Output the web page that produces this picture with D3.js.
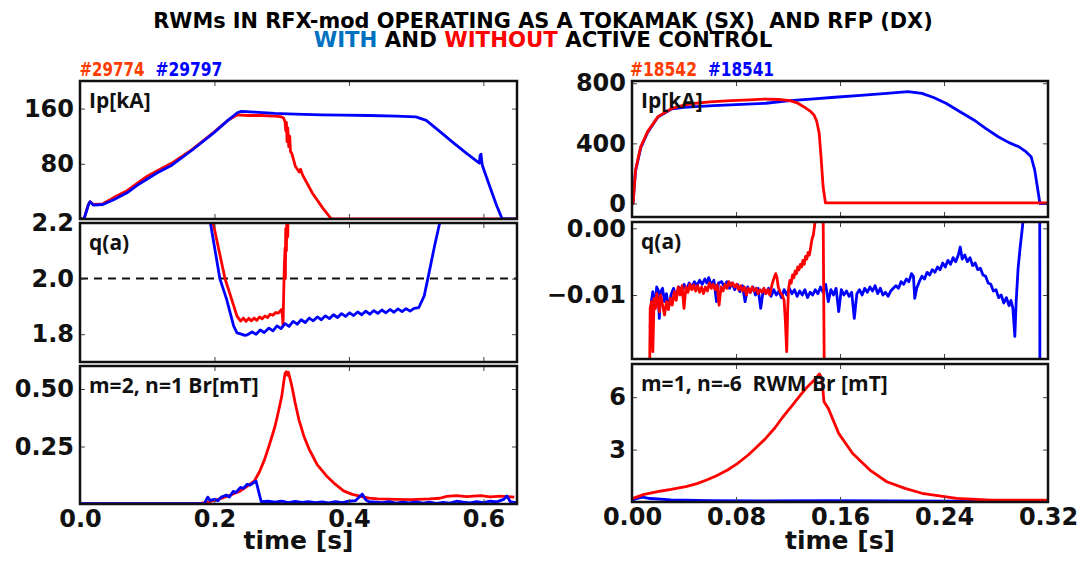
<!DOCTYPE html>
<html>
<head>
<meta charset="utf-8">
<script src="https://cdn.jsdelivr.net/npm/d3@7"></script>
<style>
  body { margin: 0; background: #fff; }
  text { white-space: pre; }
</style>
</head>
<body>
<div id="chart"></div>
<script>
// ---- data (time [s], value) ----
const tokIpRed = [[0,0],[0.006,0],[0.012,20],[0.015,25],[0.02,21],[0.034,22],[0.05,31],[0.07,41],[0.0855,52],[0.1,62],[0.115,70],[0.1366,81],[0.167,101],[0.198,125],[0.22,143],[0.234,151],[0.25,150],[0.27,150],[0.29,149],[0.3,148],[0.303,146],[0.305,141],[0.306,128],[0.307,140],[0.308,112],[0.309,132],[0.3105,105],[0.312,120],[0.313,98],[0.315,95],[0.3205,76],[0.326,68],[0.328,72],[0.331,64],[0.346,37],[0.3617,15],[0.374,0],[0.65,0]];
const tokIpBlue = [[0,0],[0.006,0],[0.013,22],[0.015,25],[0.02,20],[0.034,21],[0.05,28],[0.07,38],[0.0855,49],[0.1,58],[0.115,67],[0.1366,78],[0.167,100],[0.198,124],[0.22,143],[0.234,154],[0.24,156],[0.26,155],[0.29,153],[0.32,152],[0.36,151],[0.392,150.5],[0.43,150],[0.47,149],[0.4995,148],[0.515,143],[0.535,127],[0.556,110],[0.575,95],[0.594,81],[0.595,92],[0.5965,94],[0.598,80],[0.599,76],[0.607,54],[0.6195,20],[0.628,0],[0.65,0]];

const tokQRed = [[0.19,2.4],[0.198,2.2],[0.2157,2.0],[0.225,1.93],[0.2335,1.865],[0.239,1.847],[0.243,1.858],[0.247,1.846],[0.251,1.857],[0.255,1.848],[0.259,1.858],[0.263,1.85],[0.267,1.862],[0.271,1.855],[0.275,1.866],[0.279,1.86],[0.283,1.872],[0.287,1.868],[0.291,1.878],[0.295,1.876],[0.2997,1.889],[0.301,1.87],[0.302,1.83],[0.303,1.95],[0.304,2.05],[0.305,2.11],[0.3055,2.0],[0.306,2.18],[0.307,2.1],[0.3077,2.25],[0.309,2.15],[0.31,2.3],[0.32,2.4]];
const tokQBlue = [[0.185,2.4],[0.194,2.2],[0.208,2.0],[0.218,1.926],[0.2286,1.829],[0.2335,1.805],[0.24,1.8],[0.245,1.796],[0.249,1.798],[0.256,1.808],[0.262,1.8],[0.268,1.815],[0.274,1.806],[0.281,1.822],[0.287,1.812],[0.293,1.83],[0.299,1.82],[0.305,1.838],[0.311,1.828],[0.317,1.846],[0.323,1.836],[0.329,1.852],[0.335,1.842],[0.341,1.858],[0.347,1.848],[0.353,1.862],[0.359,1.852],[0.365,1.866],[0.371,1.856],[0.377,1.87],[0.383,1.86],[0.389,1.874],[0.395,1.864],[0.401,1.877],[0.407,1.867],[0.413,1.88],[0.419,1.87],[0.425,1.883],[0.431,1.872],[0.437,1.885],[0.443,1.875],[0.449,1.887],[0.455,1.877],[0.461,1.889],[0.467,1.879],[0.473,1.891],[0.479,1.881],[0.485,1.892],[0.491,1.883],[0.497,1.893],[0.504,1.896],[0.512,1.938],[0.5174,2.0],[0.5276,2.12],[0.535,2.2],[0.545,2.4]];
const qLimit = 2.0;

const tokBrRed = [[0,0.002],[0.177,0.002],[0.19,0.008],[0.208,0.022],[0.225,0.04],[0.2387,0.057],[0.25,0.08],[0.2593,0.1],[0.267,0.14],[0.2746,0.194],[0.282,0.26],[0.29,0.337],[0.295,0.4],[0.3,0.467],[0.303,0.53],[0.305,0.568],[0.307,0.575],[0.3085,0.56],[0.31,0.573],[0.3153,0.51],[0.32,0.44],[0.3257,0.366],[0.333,0.295],[0.341,0.237],[0.353,0.17],[0.3667,0.122],[0.38,0.085],[0.392,0.057],[0.405,0.042],[0.4177,0.033],[0.43,0.026],[0.443,0.022],[0.47,0.02],[0.494,0.019],[0.52,0.022],[0.535,0.025],[0.5454,0.033],[0.56,0.036],[0.575,0.032],[0.596,0.036],[0.61,0.031],[0.625,0.034],[0.646,0.03]];
const tokBrBlue = [[0,0.002],[0.185,0.002],[0.19,0.03],[0.193,0.016],[0.2,0.02],[0.205,0.014],[0.21,0.03],[0.218,0.039],[0.222,0.03],[0.228,0.055],[0.232,0.05],[0.2387,0.072],[0.243,0.068],[0.2488,0.086],[0.253,0.082],[0.2618,0.1],[0.2655,0.057],[0.2695,0.01],[0.28,0.012],[0.29,0.008],[0.3,0.012],[0.31,0.006],[0.32,0.011],[0.33,0.007],[0.34,0.01],[0.35,0.006],[0.36,0.009],[0.37,0.005],[0.38,0.01],[0.39,0.006],[0.4,0.012],[0.41,0.015],[0.42,0.043],[0.425,0.018],[0.43,0.01],[0.44,0.008],[0.45,0.006],[0.46,0.01],[0.47,0.004],[0.48,0.008],[0.49,0.005],[0.5,0.009],[0.51,0.004],[0.52,0.008],[0.53,0.003],[0.54,0.007],[0.55,0.004],[0.56,0.012],[0.57,0.008],[0.58,0.005],[0.59,0.01],[0.6,0.006],[0.61,0.012],[0.62,0.009],[0.63,0.02],[0.635,0.035],[0.64,0.01],[0.65,0.005]];

const rfpIpRed = [[0,0],[0.0008,0],[0.0027,222],[0.0067,377],[0.012,478],[0.02,578],[0.0307,633],[0.04,655],[0.049,667],[0.06,676],[0.076,684],[0.09,690],[0.103,695],[0.113,692],[0.1215,684],[0.127,670],[0.132,644],[0.137,615],[0.14,589],[0.142,550],[0.144,467],[0.1455,300],[0.147,111],[0.1488,4],[0.2,4],[0.32,4]];
const rfpIpBlue = [[0,0],[0.0008,0],[0.0027,215],[0.0067,370],[0.012,472],[0.02,575],[0.0307,630],[0.04,640],[0.049,645],[0.0628,651],[0.08,658],[0.103,667],[0.1215,684],[0.14,696],[0.156,707],[0.176,720],[0.196,733],[0.2123,744],[0.223,733],[0.232,705],[0.2415,667],[0.252,612],[0.263,556],[0.272,500],[0.2817,444],[0.29,405],[0.2977,377],[0.303,345],[0.307,311],[0.3098,222],[0.312,100],[0.3138,0],[0.32,0]];

const rfpQBlue = [[0.014,-0.015],[0.015,-0.0108],[0.016,-0.0095],[0.0175,-0.012],[0.019,-0.0088],[0.02,-0.0092],[0.021,-0.0135],[0.022,-0.0095],[0.0235,-0.009],[0.025,-0.011],[0.0265,-0.0098],[0.028,-0.012],[0.03,-0.01],[0.032,-0.009],[0.034,-0.0105],[0.036,-0.0088],[0.038,-0.0095],[0.04,-0.0084],[0.042,-0.0092],[0.044,-0.0082],[0.046,-0.0088],[0.048,-0.008],[0.05,-0.0086],[0.052,-0.0078],[0.054,-0.0084],[0.056,-0.0076],[0.0575,-0.0082],[0.059,-0.0074],[0.061,-0.0085],[0.063,-0.0078],[0.065,-0.011],[0.0665,-0.0082],[0.069,-0.008],[0.071,-0.0088],[0.073,-0.008],[0.075,-0.009],[0.077,-0.0082],[0.079,-0.0092],[0.081,-0.0084],[0.083,-0.0095],[0.085,-0.0086],[0.087,-0.011],[0.089,-0.0088],[0.091,-0.0096],[0.093,-0.0088],[0.095,-0.01],[0.097,-0.009],[0.099,-0.012],[0.101,-0.0092],[0.103,-0.0098],[0.105,-0.009],[0.107,-0.0102],[0.109,-0.0092],[0.111,-0.01],[0.113,-0.0094],[0.115,-0.0104],[0.117,-0.0092],[0.119,-0.01],[0.121,-0.009],[0.123,-0.0098],[0.125,-0.0092],[0.127,-0.0102],[0.129,-0.0094],[0.131,-0.01],[0.133,-0.0092],[0.135,-0.0104],[0.137,-0.0096],[0.139,-0.01],[0.141,-0.0092],[0.143,-0.0098],[0.145,-0.0088],[0.147,-0.0096],[0.149,-0.0084],[0.151,-0.011],[0.153,-0.0092],[0.155,-0.01],[0.157,-0.009],[0.159,-0.0125],[0.161,-0.0092],[0.163,-0.01],[0.165,-0.0094],[0.167,-0.0102],[0.169,-0.0096],[0.171,-0.0135],[0.173,-0.0098],[0.175,-0.0092],[0.177,-0.01],[0.179,-0.009],[0.181,-0.0096],[0.183,-0.0088],[0.185,-0.0094],[0.187,-0.0086],[0.189,-0.0098],[0.191,-0.009],[0.193,-0.01],[0.195,-0.0096],[0.197,-0.0102],[0.199,-0.0094],[0.201,-0.009],[0.203,-0.0086],[0.205,-0.009],[0.207,-0.008],[0.209,-0.0084],[0.211,-0.0076],[0.213,-0.008],[0.215,-0.0068],[0.2165,-0.0072],[0.2175,-0.0105],[0.219,-0.009],[0.221,-0.008],[0.223,-0.0072],[0.225,-0.0076],[0.227,-0.0066],[0.229,-0.007],[0.231,-0.0062],[0.233,-0.0066],[0.235,-0.0058],[0.237,-0.0062],[0.239,-0.0052],[0.241,-0.0058],[0.243,-0.0048],[0.245,-0.0054],[0.247,-0.0044],[0.249,-0.005],[0.251,-0.004],[0.2525,-0.0028],[0.254,-0.0046],[0.256,-0.004],[0.258,-0.005],[0.26,-0.0044],[0.262,-0.0056],[0.264,-0.0052],[0.266,-0.0062],[0.268,-0.006],[0.27,-0.007],[0.272,-0.0072],[0.274,-0.0082],[0.276,-0.0084],[0.278,-0.0094],[0.28,-0.0092],[0.282,-0.0104],[0.284,-0.01],[0.286,-0.0112],[0.288,-0.0104],[0.29,-0.0116],[0.2915,-0.0108],[0.293,-0.012],[0.2945,-0.0162],[0.2955,-0.011],[0.297,-0.006],[0.2985,-0.003],[0.3,-0.0004],[0.301,0.0015],[0.305,0.01],[0.3136,0.01],[0.3138,-0.03]];
const rfpQRed = [[0.0135,-0.023],[0.014,-0.012],[0.015,-0.011],[0.016,-0.0185],[0.017,-0.0105],[0.018,-0.012],[0.019,-0.0098],[0.02,-0.011],[0.021,-0.0125],[0.022,-0.01],[0.0235,-0.0115],[0.025,-0.013],[0.0265,-0.011],[0.028,-0.0122],[0.0295,-0.0105],[0.031,-0.0115],[0.0325,-0.0095],[0.034,-0.0108],[0.0355,-0.0088],[0.037,-0.01],[0.0385,-0.0086],[0.04,-0.012],[0.0415,-0.0088],[0.043,-0.0096],[0.0445,-0.0084],[0.046,-0.0092],[0.0475,-0.0085],[0.049,-0.0094],[0.0505,-0.0086],[0.052,-0.0096],[0.0535,-0.0088],[0.055,-0.0098],[0.0565,-0.0088],[0.058,-0.0094],[0.0595,-0.0082],[0.061,-0.009],[0.0625,-0.0084],[0.064,-0.0092],[0.0655,-0.0085],[0.067,-0.0115],[0.0685,-0.0088],[0.07,-0.0094],[0.0715,-0.0084],[0.073,-0.009],[0.0745,-0.008],[0.076,-0.0086],[0.0775,-0.0082],[0.079,-0.0088],[0.0805,-0.0084],[0.082,-0.0092],[0.0835,-0.0086],[0.085,-0.0094],[0.0865,-0.0088],[0.088,-0.01],[0.0895,-0.009],[0.091,-0.0096],[0.0925,-0.0088],[0.094,-0.0094],[0.0955,-0.009],[0.097,-0.0098],[0.0985,-0.0092],[0.1,-0.0096],[0.1015,-0.009],[0.103,-0.0098],[0.1045,-0.0092],[0.106,-0.01],[0.1075,-0.0086],[0.109,-0.0076],[0.1105,-0.0068],[0.1115,-0.0074],[0.1125,-0.0088],[0.114,-0.0096],[0.1155,-0.01],[0.117,-0.0108],[0.118,-0.014],[0.119,-0.0185],[0.1198,-0.012],[0.1205,-0.009],[0.1215,-0.0078],[0.1225,-0.0082],[0.1235,-0.007],[0.1245,-0.0074],[0.1255,-0.0064],[0.1265,-0.0068],[0.1275,-0.0058],[0.1285,-0.0062],[0.1295,-0.0054],[0.1305,-0.0058],[0.1315,-0.0048],[0.1325,-0.0054],[0.1335,-0.0042],[0.1345,-0.0046],[0.1355,-0.0036],[0.1365,-0.004],[0.1375,-0.0028],[0.1385,-0.0016],[0.1395,-0.001],[0.1405,0.0005],[0.1415,0.002],[0.147,0.003],[0.1482,-0.03]];

const rfpBrRed = [[0,0.15],[0.0007,0.21],[0.0093,0.44],[0.0227,0.63],[0.03,0.72],[0.0414,0.88],[0.05,1.05],[0.0574,1.26],[0.065,1.5],[0.0735,1.83],[0.081,2.2],[0.0894,2.69],[0.096,3.15],[0.1028,3.64],[0.11,4.25],[0.1162,4.88],[0.123,5.5],[0.1295,6.12],[0.135,6.6],[0.1402,6.98],[0.1442,7.33],[0.146,7.08],[0.1477,5.74],[0.151,5.36],[0.159,3.93],[0.1696,2.79],[0.183,1.83],[0.196,1.16],[0.21,0.78],[0.223,0.5],[0.2498,0.21],[0.2765,0.1],[0.32,0.1]];
const rfpBrBlue = [[0,0.1],[0.004,0.2],[0.008,0.28],[0.014,0.2],[0.03,0.12],[0.06,0.08],[0.1,0.07],[0.15,0.08],[0.2,0.06],[0.25,0.05],[0.3,0.05],[0.32,0.05]];

const tokTicksX = [0, 0.2, 0.4, 0.6];
const rfpTicksX = [0, 0.08, 0.16, 0.24, 0.32];

const titleLine1 = "RWMs IN RFX-mod OPERATING AS A TOKAMAK (SX)  AND RFP (DX)";
const titleLine2 = [["WITH", "#0070c0"], [" AND ", "#000"], ["WITHOUT", "#ff0000"], [" ACTIVE CONTROL", "#000"]];
const shotsLeft = [["#29774", "#ff3c00"], ["#29797", "#0000ff"]];
const shotsRight = [["#18542", "#ff3c00"], ["#18541", "#0000ff"]];

// ---- layout ----
const svg = d3.select("#chart").append("svg")
    .attr("width", 1086)
    .attr("height", 561);

const leftX = d3.scaleLinear().domain([0, 0.65]).range([80, 517]);
const rightX = d3.scaleLinear().domain([0, 0.32]).range([632, 1048]);

const RED = "#ff0000", BLUE = "#0000ff";
const tickFont = "'DejaVu Sans', sans-serif";
const labelFont = "'Open Sans', 'Noto Sans', sans-serif";
const narrowFont = "'Liberation Sans Narrow', 'DejaVu Sans Condensed', 'Liberation Sans', sans-serif";

const panels = [
    { x: leftX, top: 81, bottom: 219, dom: [0, 200], ticks: [80, 160], fmt: d3.format("d"),
      label: "Ip[kA]", series: [[tokIpRed, RED], [tokIpBlue, BLUE]], xTicks: tokTicksX, xLab: false },
    { x: leftX, top: 223, bottom: 362, dom: [1.7, 2.2], ticks: [1.8, 2.0, 2.2], fmt: d3.format(".1f"),
      label: "q(a)", series: [[tokQRed, RED], [tokQBlue, BLUE]], xTicks: tokTicksX, xLab: false, ref: qLimit },
    { x: leftX, top: 366, bottom: 504, dom: [0, 0.6], ticks: [0.25, 0.5], fmt: d3.format(".2f"),
      label: "m=2, n=1 Br[mT]", series: [[tokBrRed, RED], [tokBrBlue, BLUE]], xTicks: tokTicksX, xLab: true, xFmt: d3.format(".1f") },
    { x: rightX, top: 81, bottom: 217, dom: [-90, 815], ticks: [0, 400, 800], fmt: d3.format("d"),
      label: "Ip[kA]", series: [[rfpIpBlue, BLUE], [rfpIpRed, RED]], xTicks: rfpTicksX, xLab: false },
    { x: rightX, top: 222, bottom: 359, dom: [-0.0196, 0.00095], ticks: [-0.01, 0], fmt: d3.format(".2f"),
      label: "q(a)", series: [[rfpQBlue, BLUE], [rfpQRed, RED]], xTicks: rfpTicksX, xLab: false },
    { x: rightX, top: 364, bottom: 502, dom: [0, 7.9], ticks: [3, 6], fmt: d3.format("d"),
      label: "m=1, n=-6  RWM Br [mT]", series: [[rfpBrBlue, BLUE], [rfpBrRed, RED]], xTicks: rfpTicksX, xLab: true, xFmt: d3.format(".2f") }
];

panels.forEach((p, i) => {
    const x = p.x;
    const y = d3.scaleLinear().domain(p.dom).range([p.bottom, p.top]);
    const [x0, x1] = x.range();
    const g = svg.append("g");

    g.append("clipPath").attr("id", "clip" + i)
        .append("rect")
        .attr("x", x0).attr("y", p.top)
        .attr("width", x1 - x0).attr("height", p.bottom - p.top);

    const line = d3.line().x(d => x(d[0])).y(d => y(d[1]));

    if (p.ref !== undefined) {
        g.append("line")
            .attr("x1", x0).attr("x2", x1)
            .attr("y1", y(p.ref)).attr("y2", y(p.ref))
            .attr("stroke", "#111").attr("stroke-width", 2)
            .attr("stroke-dasharray", "8,6");
    }

    p.series.forEach(([data, color]) => {
        g.append("path")
            .datum(data)
            .attr("clip-path", `url(#clip${i})`)
            .attr("fill", "none")
            .attr("stroke", color)
            .attr("stroke-width", 2.8)
            .attr("stroke-linejoin", "round")
            .attr("d", line);
    });

    // inward ticks on all four sides
    const yl = g.append("g").attr("transform", `translate(${x0},0)`)
        .call(d3.axisLeft(y).tickValues(p.ticks).tickFormat(p.fmt).tickSizeInner(-5).tickSizeOuter(0).tickPadding(6));
    g.append("g").attr("transform", `translate(${x1},0)`)
        .call(d3.axisRight(y).tickValues(p.ticks).tickFormat("").tickSizeInner(-5).tickSizeOuter(0));
    g.append("g").attr("transform", `translate(0,${p.top})`)
        .call(d3.axisTop(x).tickValues(p.xTicks).tickFormat("").tickSizeInner(-5).tickSizeOuter(0));
    const xb = g.append("g").attr("transform", `translate(0,${p.bottom})`)
        .call(d3.axisBottom(x).tickValues(p.xTicks).tickFormat(p.xLab ? p.xFmt : "").tickSizeInner(-5).tickSizeOuter(0).tickPadding(6));

    g.selectAll(".domain").remove();
    g.selectAll(".tick line").attr("stroke", "#444");
    yl.selectAll("text").style("font-family", tickFont).style("font-weight", "bold").style("font-size", "24px").attr("fill", "#111");
    xb.selectAll("text").style("font-family", tickFont).style("font-weight", "bold").style("font-size", "24px").attr("fill", "#111");

    g.append("rect")
        .attr("x", x0).attr("y", p.top)
        .attr("width", x1 - x0).attr("height", p.bottom - p.top)
        .attr("fill", "none").attr("stroke", "#111").attr("stroke-width", 2.5);

    g.append("text")
        .attr("x", x0 + 9).attr("y", p.top + 27)
        .style("font-family", labelFont).style("font-weight", 700).style("font-size", "21px")
        .attr("fill", "#111")
        .text(p.label);

    if (p.xLab) {
        g.append("text")
            .attr("x", (x0 + x1) / 2).attr("y", 549)
            .attr("text-anchor", "middle")
            .style("font-family", tickFont).style("font-weight", "bold").style("font-size", "25px")
            .attr("fill", "#111")
            .text("time [s]");
    }
});

// squeeze a text element horizontally to a target width around anchor ax
function fitWidth(sel, target, ax) {
    const w = sel.node().getComputedTextLength();
    const k = target / w;
    sel.attr("transform", `translate(${ax},0) scale(${k},1) translate(${-ax},0)`);
}

// title
const t1 = svg.append("text")
    .attr("x", 543).attr("y", 28).attr("text-anchor", "middle")
    .style("font-family", narrowFont).style("font-weight", "bold").style("font-size", "21px")
    .text(titleLine1);
fitWidth(t1, 780, 543);

const t2 = svg.append("text")
    .attr("x", 543).attr("y", 47).attr("text-anchor", "middle")
    .style("font-family", narrowFont).style("font-weight", "bold").style("font-size", "21px");
titleLine2.forEach(([s, c]) => t2.append("tspan").attr("fill", c).text(s));
fitWidth(t2, 459, 543);

// shot numbers
function shots(list, xs, widths) {
    list.forEach(([s, c], i) => {
        const t = svg.append("text")
            .attr("x", xs[i]).attr("y", 76)
            .style("font-family", narrowFont).style("font-weight", "bold").style("font-size", "19px")
            .attr("fill", c)
            .text(s);
        fitWidth(t, widths[i], xs[i]);
    });
}
shots(shotsLeft, [79.5, 155.5], [65, 67]);
shots(shotsRight, [630, 708], [67, 66]);
</script>
</body>
</html>
